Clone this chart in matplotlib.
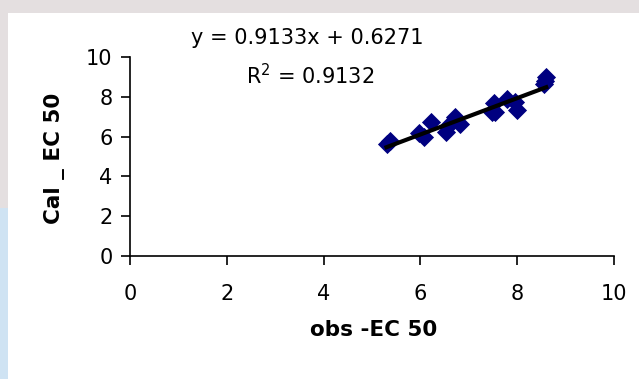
import numpy as np
import matplotlib
matplotlib.use("Agg")
import matplotlib.pyplot as plt
from matplotlib.patches import Rectangle

# ---- data ----
obs = [5.30, 5.38, 5.98, 6.08, 6.22, 6.52, 6.58, 6.72, 6.82, 7.48, 7.52, 7.55,
       7.78, 7.95, 8.00, 8.55, 8.58, 8.60]
cal = [5.62, 5.78, 6.18, 5.98, 6.72, 6.22, 6.55, 6.98, 6.62, 7.22, 7.70, 7.25,
       7.90, 7.72, 7.32, 8.62, 8.80, 8.98]
slope = 0.9133
intercept = 0.6271
r2 = 0.9132
x_ticks = [0, 2, 4, 6, 8, 10]
y_ticks = [0, 2, 4, 6, 8, 10]

plt.rcParams['font.family'] = ['DejaVu Sans']

fig = plt.figure(figsize=(6.39, 3.79), dpi=100)
fig.patch.set_facecolor('#e4dfe0')
# white chart panel
fig.patches.append(Rectangle((8/639, 0), 1 - 8/639, 1 - 13/379,
                             transform=fig.transFigure, facecolor='white',
                             edgecolor='none', zorder=0))
# faint light-blue strip at lower left
fig.patches.append(Rectangle((0, 0), 8/639, 0.45, transform=fig.transFigure,
                             facecolor='#cfe3f3', edgecolor='none', zorder=0))

ax = fig.add_axes([130/639, 1 - 256/379, (614 - 130)/639, (256 - 57)/379])
ax.set_zorder(2)
ax.set_facecolor('none')

ax.scatter(obs, cal, marker='D', s=95, color='#000080', zorder=3, linewidths=0)
xs = np.array([min(obs), max(obs)])
ax.plot(xs, slope * xs + intercept, color='black', lw=3.0, zorder=4)

ax.set_xlim(0, 10)
ax.set_ylim(0, 10)
ax.set_xticks(x_ticks)
ax.set_yticks(y_ticks)
ax.tick_params(axis='both', labelsize=15, length=6.5, width=1.2, direction='out', color='black')
ax.tick_params(axis='x', pad=14)
ax.tick_params(axis='y', pad=6)
for s in ['top', 'right']:
    ax.spines[s].set_visible(False)
for s in ['left', 'bottom']:
    ax.spines[s].set_linewidth(1.2)

ax.set_xlabel('obs -EC 50', fontsize=15.5, fontweight='bold')
ax.set_ylabel('Cal _ EC 50', fontsize=15.5, fontweight='bold')
ax.xaxis.set_label_coords((374 - 130) / (614 - 130), -(330 - 256) / (256 - 57))
ax.yaxis.set_label_coords(-(130 - 55) / (614 - 130), (256 - 158) / (256 - 57))
ax.xaxis.label.set_va('center')
ax.yaxis.label.set_va('center')

fig.text(307/639, 1 - 38/379, f'y = {slope:.4f}x + {intercept:.4f}', fontsize=15,
         ha='center', va='center')
fig.text(310/639, 1 - 76/379, f'R$^2$ = {r2:.4f}', fontsize=15,
         ha='center', va='center')

fig.savefig('out.png', dpi=100, facecolor=fig.get_facecolor())
